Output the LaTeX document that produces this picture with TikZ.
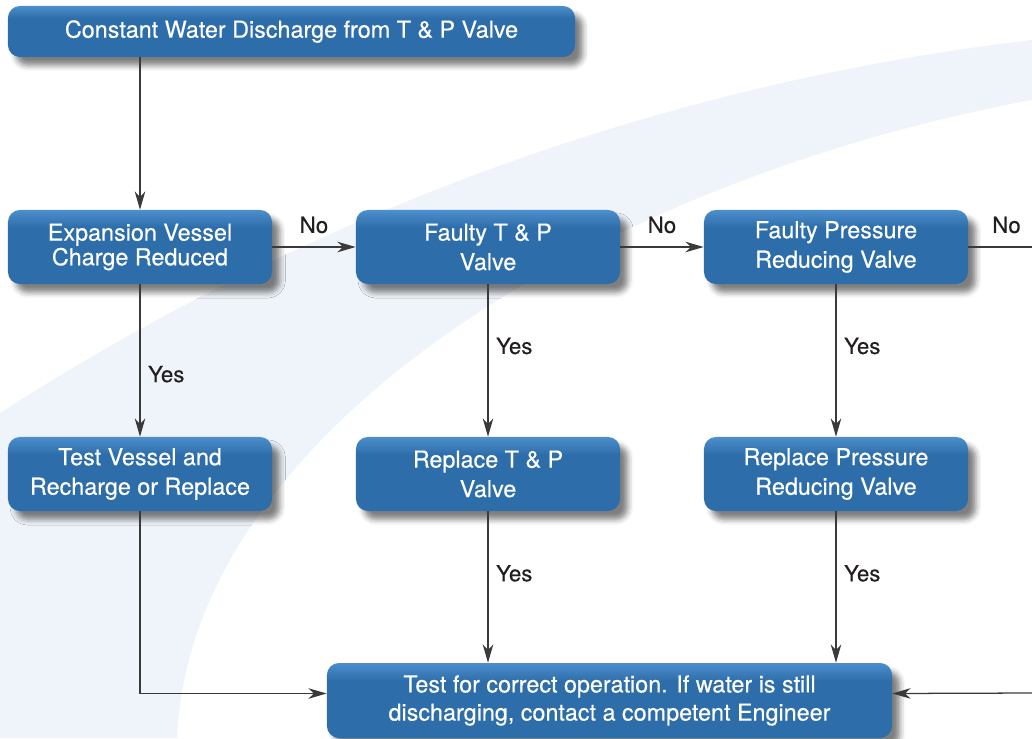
\documentclass[tikz,border=0pt]{standalone}
\usepackage{fontspec}
\setmainfont{TeX Gyre Heros}[FakeBold=0.35]
\usetikzlibrary{arrows.meta,shadows.blur}

\definecolor{boxblue}{HTML}{2D6DAA}
\definecolor{boxlight}{HTML}{4C8FCC}
\definecolor{bandblue}{HTML}{EFF4FA}
\definecolor{linegray}{HTML}{3A3A3A}
\definecolor{labelgray}{HTML}{231F20}
\pgfdeclareverticalshading{boxshade}{100bp}{color(0bp)=(boxblue); color(63bp)=(boxblue); color(75bp)=(boxlight); color(100bp)=(boxlight)}

\begin{document}
\begin{tikzpicture}[x=0.025cm,y=-0.025cm,
    stepbox/.style={rectangle,rounded corners=0.3cm,shading=boxshade,text=white,
        minimum width=6.6cm,minimum height=1.85cm,align=center,
        font=\fontsize{16.6}{21}\selectfont,
        blur shadow={shadow xshift=5.5pt,shadow yshift=-6pt,shadow blur radius=4pt,shadow opacity=50}},
    flow/.style={draw=linegray,line width=0.9pt,-{Stealth[length=13pt,width=7.5pt,inset=4pt]}},
    answer/.style={font=\fontsize{15.8}{18}\selectfont,text=labelgray}]

    \useasboundingbox (0,0) rectangle (1032,738);
    \fill[bandblue] (0,413) .. controls (300,220) and (650,85) .. (1032,40)
        -- (1032,100) .. controls (600,180) and (190,430) .. (177,738) -- (0,738) -- cycle;

    \node[stepbox,minimum width=14.175cm,minimum height=1.275cm] (start) at (291.5,31.5) {Constant Water Discharge from T \& P Valve};
    \node[stepbox,font=\fontsize{16.6}{17.5}\selectfont] (vessel) at (140,247) {Expansion Vessel\\Charge Reduced};
    \node[stepbox] (tpvalve) at (488,247) {Faulty T \& P\\Valve};
    \node[stepbox] (prvalve) at (836,247) {Faulty Pressure\\Reducing Valve};
    \node[stepbox] (recharge) at (140,474) {Test Vessel and\\Recharge or Replace};
    \node[stepbox] (newtp) at (488,474) {Replace T \& P\\Valve};
    \node[stepbox] (newpr) at (836,474) {Replace Pressure\\Reducing Valve};
    \node[stepbox,minimum width=14.125cm,minimum height=1.875cm,font=\fontsize{16.6}{20}\selectfont] (check) at (609.5,700.5) {Test for correct operation. If water is still\\discharging, contact a competent Engineer};

    \coordinate (noexit) at (1032,247);
    \coordinate (noback) at (1032,693);

    \draw[flow] (start.south -| vessel.north) -- (vessel.north);
    \draw[flow] (vessel.east) -- node[answer,above=6pt]{No} (tpvalve.west);
    \draw[flow] (tpvalve.east) -- node[answer,above=6pt]{No} (prvalve.west);
    \draw[draw=linegray,line width=0.9pt] (prvalve.east) -- node[answer,above=6pt,pos=0.6]{No} (noexit);

    \draw[flow] (vessel.south) -- node[answer,right=2pt,pos=0.59]{Yes} (recharge.north);
    \draw[flow] (tpvalve.south) -- node[answer,right=2pt,pos=0.405]{Yes} (newtp.north);
    \draw[flow] (prvalve.south) -- node[answer,right=2pt,pos=0.405]{Yes} (newpr.north);
    \draw[flow] (newtp.south) -- node[answer,right=2pt,pos=0.41]{Yes} (newtp.south |- check.north);
    \draw[flow] (newpr.south) -- node[answer,right=2pt,pos=0.41]{Yes} (newpr.south |- check.north);

    \draw[flow] (recharge.south) |- ([yshift=0.175cm]check.west);
    \draw[flow] (noback) -- ([yshift=0.175cm]check.east);
\end{tikzpicture}
\end{document}
